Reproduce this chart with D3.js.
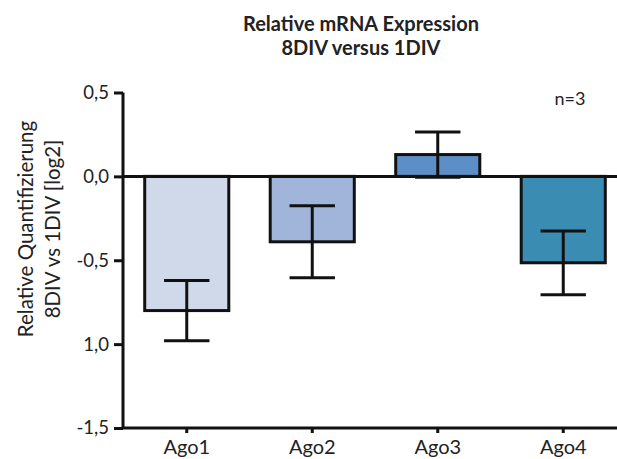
<!DOCTYPE html>
<html>
<head>
<meta charset="utf-8">
<script src="https://cdn.jsdelivr.net/npm/d3@7"></script>
<style>
  body { margin: 0; background: #fff; }
  text { font-family: Lato, "Open Sans", sans-serif; fill: #222; }
</style>
</head>
<body>
<div id="chart"></div>
<script>
// data
const genes = ["Ago1", "Ago2", "Ago3", "Ago4"];
const means = [-0.80, -0.39, 0.13, -0.515];
const errs = [0.18, 0.215, 0.135, 0.19];
const colors = ["#cfd9ea", "#a1b5db", "#5e8ec6", "#3b8cb2"];
const yTicks = [0.5, 0, -0.5, -1, -1.5];
const yTickLabels = ["0,5", "0,0", "-0,5", "1,0", "-1,5"];

const width = 617, height = 459;
const svg = d3.select("#chart").append("svg")
  .attr("width", width)
  .attr("height", height);

const x = d3.scaleBand().domain(genes).range([124, 626])
  .paddingInner(0.33).paddingOuter(0.165);
const y = d3.scaleLinear().domain([-1.5, 0.5]).range([428, 92.5]);

// title
svg.append("text")
  .attr("x", 361).attr("y", 31)
  .attr("text-anchor", "middle")
  .style("font-size", "20px").style("font-weight", "bold")
  .text("Relative mRNA Expression");
svg.append("text")
  .attr("x", 361).attr("y", 55)
  .attr("text-anchor", "middle")
  .style("font-size", "20px").style("font-weight", "bold")
  .text("8DIV versus 1DIV");

// y axis label
const yl = svg.append("text")
  .attr("transform", "translate(33,229) rotate(-90)")
  .attr("text-anchor", "middle")
  .style("font-size", "20.5px");
yl.append("tspan").attr("x", 0).attr("dy", 0).text("Relative Quantifizierung");
yl.append("tspan").attr("x", 0).attr("dy", 27).text("8DIV vs 1DIV [log2]");

// bars
svg.selectAll("rect.bar").data(genes).enter().append("rect")
  .attr("class", "bar")
  .attr("x", d => x(d))
  .attr("width", x.bandwidth())
  .attr("y", (d, i) => y(Math.max(0, means[i])))
  .attr("height", (d, i) => Math.abs(y(means[i]) - y(0)))
  .attr("fill", (d, i) => colors[i])
  .attr("stroke", "#111")
  .attr("stroke-width", 3);

// error bars
const capW = x.bandwidth() * 0.27;
genes.forEach((g, i) => {
  const cx = x(g) + x.bandwidth() / 2;
  const lo = y(means[i] - errs[i]), hi = y(means[i] + errs[i]);
  const eb = svg.append("g").attr("stroke", "#111").attr("stroke-width", 3);
  eb.append("line").attr("x1", cx).attr("x2", cx).attr("y1", lo).attr("y2", hi);
  eb.append("line").attr("x1", cx - capW).attr("x2", cx + capW).attr("y1", lo).attr("y2", lo);
  eb.append("line").attr("x1", cx - capW).attr("x2", cx + capW).attr("y1", hi).attr("y2", hi);
});

// zero line
svg.append("line")
  .attr("x1", 124).attr("x2", width)
  .attr("y1", y(0)).attr("y2", y(0))
  .attr("stroke", "#111").attr("stroke-width", 3);

// y axis
const yAxis = svg.append("g")
  .attr("transform", "translate(123,0)")
  .call(d3.axisLeft(y).tickValues(yTicks)
    .tickFormat((d, i) => yTickLabels[i]).tickSize(9).tickPadding(5));
yAxis.select(".domain").attr("stroke", "#111").attr("stroke-width", 3).attr("d", `M0,${y(0.5)}V${y(-1.5)}`);
yAxis.selectAll(".tick line").attr("stroke", "#111").attr("stroke-width", 3);
yAxis.selectAll(".tick text").style("font-size", "18.5px").style("font-family", "Lato, 'Open Sans', sans-serif").attr("fill", "#222");

// x axis
const xAxis = svg.append("g")
  .attr("transform", `translate(0,${y(-1.5)})`)
  .call(d3.axisBottom(x).tickSize(5).tickPadding(7));
xAxis.select(".domain").attr("stroke", "#111").attr("stroke-width", 3).attr("d", `M122,0H${width}`);
xAxis.selectAll(".tick line").attr("stroke", "#111").attr("stroke-width", 3);
xAxis.selectAll(".tick text").style("font-size", "20px").style("font-family", "Lato, 'Open Sans', sans-serif").attr("fill", "#222");

// n label
svg.append("text")
  .attr("x", 570).attr("y", 105)
  .attr("text-anchor", "middle")
  .style("font-size", "18px")
  .text("n=3");
</script>
</body>
</html>
